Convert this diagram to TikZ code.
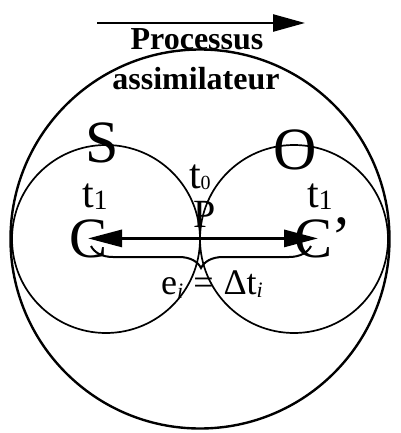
\documentclass[tikz,border=0pt]{standalone}
\usepackage{fontspec}
\setmainfont{Liberation Serif}
\usetikzlibrary{arrows.meta,decorations.pathreplacing}
\newcommand{\lowsub}[3]{\raisebox{-#1pt}{\fontsize{#2}{#2}\selectfont #3}}
\tikzset{
  lbl/.style={inner sep=0pt, outer sep=0pt, anchor=base},
  title/.style={lbl, font=\fontsize{32}{36}\selectfont\bfseries},
  huge/.style={lbl, font=\fontsize{60}{62}\selectfont},
  bigc/.style={lbl, font=\fontsize{57}{60}\selectfont},
  tlab/.style={lbl, anchor=base west, font=\fontsize{42}{44}\selectfont},
  plab/.style={lbl, font=\fontsize{40}{42}\selectfont},
  eqlab/.style={lbl, font=\fontsize{36}{40}\selectfont},
  bigcircle/.style={line width=2.4pt},
  smallcircle/.style={line width=1.7pt},
  thickarrow/.style={line width=3pt, {Triangle[length=34pt,width=17pt]}-{Triangle[length=34pt,width=17pt]}},
  toparrow/.style={line width=2.5pt, -{Triangle[length=32pt,width=17pt]}},
  bracestyle/.style={line width=2pt, decorate, decoration={brace, mirror, amplitude=22pt}}
}
\begin{document}
\begin{tikzpicture}[x=1pt, y=-1pt]
\useasboundingbox (0,0) rectangle (400,433);
% circles
\draw[bigcircle] (200,239) circle[radius=189.5pt];
\draw[smallcircle] (106,239) circle[radius=94pt];
\draw[smallcircle] (294,239) circle[radius=94pt];
% top arrow
\coordinate (ta) at (97,23);
\coordinate (tb) at (305,23);
\draw[toparrow] (ta) -- (tb);
\node[title] (proc) at (197,50) {Processus};
\node[title] (assim) at (196,90) {assimilateur};
% S and O
\node[huge] (S) at (102,162) {S};
\node[huge] (O) at (295,169) {O};
% labels
\node[tlab] (t0) at (189,188) {t\lowsub{1}{20}{0}};
\node[tlab] (t1l) at (82,207) {t\lowsub{2}{28}{1}};
\node[tlab] (t1r) at (307,207) {t\lowsub{2}{28}{1}};
\node[plab] (P) at (205,227) {P};
% C and C'
\node[bigc] (Cl) at (89,257) {C};
\node[bigc] (Cr) at (314,257) {C};
\node[lbl, anchor=base west, font=\fontsize{60}{62}\selectfont] (ap) at (331,257) {’};
% double arrow
\draw[thickarrow, shorten <=-1pt, shorten >=-4pt] (Cl.center) -- (Cr.center);
% brace
\coordinate (bl) at (91,246);
\coordinate (br) at (311,246);
\draw[bracestyle] (bl) -- (br);
% equation
\node[eqlab] (eq) at (212,294) {e\lowsub{4}{22}{\itshape i}\;=\;Δt\lowsub{3}{22}{\itshape i}};
\end{tikzpicture}
\end{document}
